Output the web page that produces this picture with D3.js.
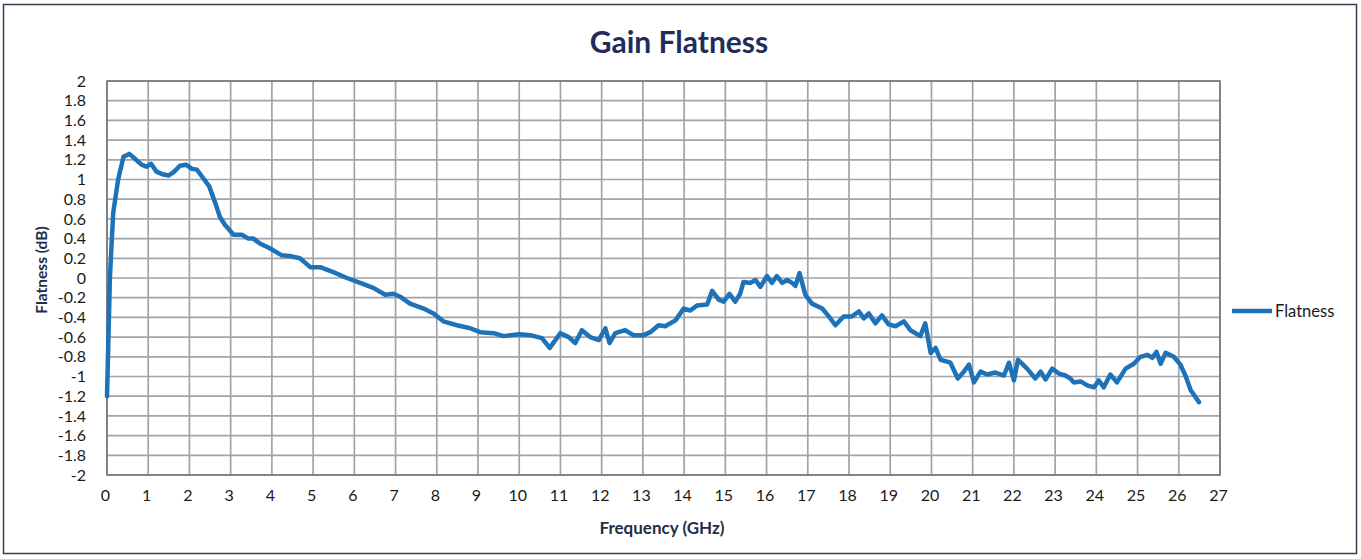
<!DOCTYPE html>
<html>
<head>
<meta charset="utf-8">
<script src="https://cdn.jsdelivr.net/npm/d3@7"></script>
<style>
  body { margin: 0; background: #fff; }
  svg { display: block; font-family: Lato, "Open Sans", sans-serif; }
</style>
</head>
<body>
<div id="chart"></div>
<script>
var width = 1361;
var height = 559;

// data (GHz, dB)
var freq = [0, 0.07, 0.15, 0.27, 0.40, 0.54, 0.68, 0.84, 0.96, 1.07, 1.2, 1.37, 1.5, 1.63, 1.77, 1.92,
  2.05, 2.18, 2.34, 2.48, 2.62, 2.74, 2.86, 3.07, 3.27, 3.43, 3.55, 3.71, 3.96, 4.24, 4.48, 4.68,
  4.93, 5.17, 5.49, 5.82, 6.14, 6.46, 6.75, 6.95, 7.11, 7.35, 7.68, 7.92, 8.16, 8.49, 8.81, 9.05,
  9.38, 9.62, 9.8, 10.0, 10.27, 10.55, 10.74, 11.0, 11.2, 11.36, 11.52, 11.72, 11.93, 12.09, 12.19,
  12.33, 12.57, 12.77, 13.02, 13.18, 13.38, 13.54, 13.79, 13.99, 14.15, 14.31, 14.56, 14.68, 14.84,
  14.96, 15.1, 15.24, 15.36, 15.44, 15.61, 15.73, 15.85, 16.01, 16.13, 16.25, 16.38, 16.5, 16.62,
  16.7, 16.8, 16.94, 17.1, 17.35, 17.51, 17.67, 17.87, 18.07, 18.24, 18.36, 18.48, 18.64, 18.8,
  18.96, 19.13, 19.33, 19.49, 19.73, 19.85, 19.98, 20.1, 20.22, 20.46, 20.64, 20.77, 20.91, 21.03,
  21.19, 21.35, 21.55, 21.76, 21.88, 22.0, 22.1, 22.32, 22.52, 22.65, 22.77, 22.93, 23.09, 23.25,
  23.37, 23.45, 23.62, 23.78, 23.94, 24.06, 24.18, 24.34, 24.5, 24.71, 24.91, 25.07, 25.24, 25.36,
  25.46, 25.56, 25.68, 25.88, 26.04, 26.17, 26.29, 26.49];

var flatness = [-1.2, 0.0, 0.66, 1.0, 1.23, 1.26, 1.21, 1.15, 1.13, 1.16, 1.08, 1.05, 1.04, 1.08, 1.14, 1.15,
  1.11, 1.10, 1.01, 0.93, 0.77, 0.62, 0.54, 0.44, 0.44, 0.40, 0.40, 0.35, 0.30, 0.23, 0.22, 0.20,
  0.11, 0.11, 0.06, 0.0, -0.05, -0.10, -0.17, -0.16, -0.19, -0.26, -0.31, -0.36, -0.44, -0.48, -0.51, -0.55,
  -0.56, -0.59, -0.58, -0.57, -0.58, -0.61, -0.71, -0.56, -0.60, -0.66, -0.53, -0.60, -0.63, -0.51, -0.66,
  -0.56, -0.53, -0.58, -0.58, -0.55, -0.48, -0.49, -0.43, -0.31, -0.33, -0.28, -0.27, -0.13, -0.22,
  -0.24, -0.16, -0.24, -0.16, -0.04, -0.05, -0.02, -0.09, 0.02, -0.05, 0.02, -0.05, -0.02, -0.05,
  -0.08, 0.05, -0.17, -0.26, -0.31, -0.39, -0.48, -0.39, -0.39, -0.34, -0.41, -0.36, -0.46, -0.38,
  -0.47, -0.49, -0.44, -0.53, -0.59, -0.46, -0.76, -0.71, -0.83, -0.86, -1.02, -0.96, -0.88, -1.06,
  -0.95, -0.98, -0.96, -0.99, -0.86, -1.04, -0.83, -0.92, -1.02, -0.95, -1.03, -0.92, -0.97, -0.99,
  -1.02, -1.06, -1.05, -1.09, -1.11, -1.04, -1.11, -0.98, -1.06, -0.92, -0.87, -0.80, -0.78, -0.81,
  -0.75, -0.87, -0.76, -0.80, -0.88, -1.00, -1.14, -1.26];

var xTicks = d3.range(0, 28, 1);
var yTicks = d3.range(-2, 2.01, 0.2).map(function(d) { return Math.round(d * 10) / 10; });

var plot = {left: 107, right: 1220, top: 81, bottom: 475};

var svg = d3.select("#chart").append("svg")
  .attr("width", width)
  .attr("height", height);

// outer frame
svg.append("rect")
  .attr("x", 3.5).attr("y", 4.5)
  .attr("width", 1353).attr("height", 549)
  .attr("fill", "#fff")
  .attr("stroke", "#3b3f4f")
  .attr("stroke-width", 1.5);

var x = d3.scaleLinear().domain([0, 27]).range([plot.left, plot.right]);
var y = d3.scaleLinear().domain([-2, 2]).range([plot.bottom, plot.top]);

// grid
var grid = svg.append("g");
grid.selectAll(".vg").data(xTicks).enter().append("line")
  .attr("x1", function(d) { return x(d); })
  .attr("x2", function(d) { return x(d); })
  .attr("y1", plot.top).attr("y2", plot.bottom)
  .attr("stroke", "#a0a4a9").attr("stroke-width", 1.7);
grid.selectAll(".hg").data(yTicks).enter().append("line")
  .attr("x1", plot.left).attr("x2", plot.right)
  .attr("y1", function(d) { return y(d); })
  .attr("y2", function(d) { return y(d); })
  .attr("stroke", "#a0a4a9").attr("stroke-width", 1.7);

svg.append("rect")
  .attr("x", plot.left).attr("y", plot.top)
  .attr("width", plot.right - plot.left).attr("height", plot.bottom - plot.top)
  .attr("fill", "none").attr("stroke", "#6f7378").attr("stroke-width", 1.5);

// axes (labels only)
var xAxis = svg.append("g")
  .attr("transform", "translate(-2," + (plot.bottom + 12) + ")")
  .call(d3.axisBottom(x).tickValues(xTicks).tickSize(0).tickFormat(d3.format("d")));
xAxis.select(".domain").remove();
xAxis.selectAll("text")
  .attr("font-size", 16).attr("fill", "#1a1a1a")
  .attr("font-family", "Lato, sans-serif");

var yAxis = svg.append("g")
  .attr("transform", "translate(" + (plot.left - 18) + ",0)")
  .call(d3.axisLeft(y).tickValues(yTicks).tickSize(0).tickFormat(function(d) { return String(d); }));
yAxis.select(".domain").remove();
yAxis.selectAll("text")
  .attr("font-size", 16).attr("fill", "#1a1a1a")
  .attr("font-family", "Lato, sans-serif");

// line
var data = freq.map(function(f, i) { return {f: f, v: flatness[i]}; });
var line = d3.line()
  .x(function(d) { return x(d.f); })
  .y(function(d) { return y(d.v); });

svg.append("path")
  .datum(data)
  .attr("d", line)
  .attr("fill", "none")
  .attr("stroke", "#1d72b8")
  .attr("stroke-width", 4.5)
  .attr("stroke-linejoin", "round")
  .attr("stroke-linecap", "round");

// titles
svg.append("text")
  .attr("x", 679).attr("y", 53)
  .attr("text-anchor", "middle")
  .attr("font-size", 30).attr("font-weight", "bold")
  .attr("fill", "#1f2d5a")
  .text("Gain Flatness");

svg.append("text")
  .attr("x", 662).attr("y", 534)
  .attr("text-anchor", "middle")
  .attr("font-size", 17).attr("font-weight", "bold")
  .attr("fill", "#1f2d4a")
  .text("Frequency (GHz)");

svg.append("text")
  .attr("transform", "translate(47," + 270 + ") rotate(-90)")
  .attr("text-anchor", "middle")
  .attr("font-size", 15.5).attr("font-weight", "bold")
  .attr("fill", "#1f2d4a")
  .text("Flatness (dB)");

// legend
var legend = svg.append("g");
legend.append("line")
  .attr("x1", 1232).attr("x2", 1272)
  .attr("y1", 311).attr("y2", 311)
  .attr("stroke", "#1d72b8").attr("stroke-width", 4.5);
legend.append("text")
  .attr("x", 1275).attr("y", 317)
  .attr("font-size", 16.5).attr("fill", "#1a1a1a")
  .text("Flatness");
</script>
</body>
</html>
